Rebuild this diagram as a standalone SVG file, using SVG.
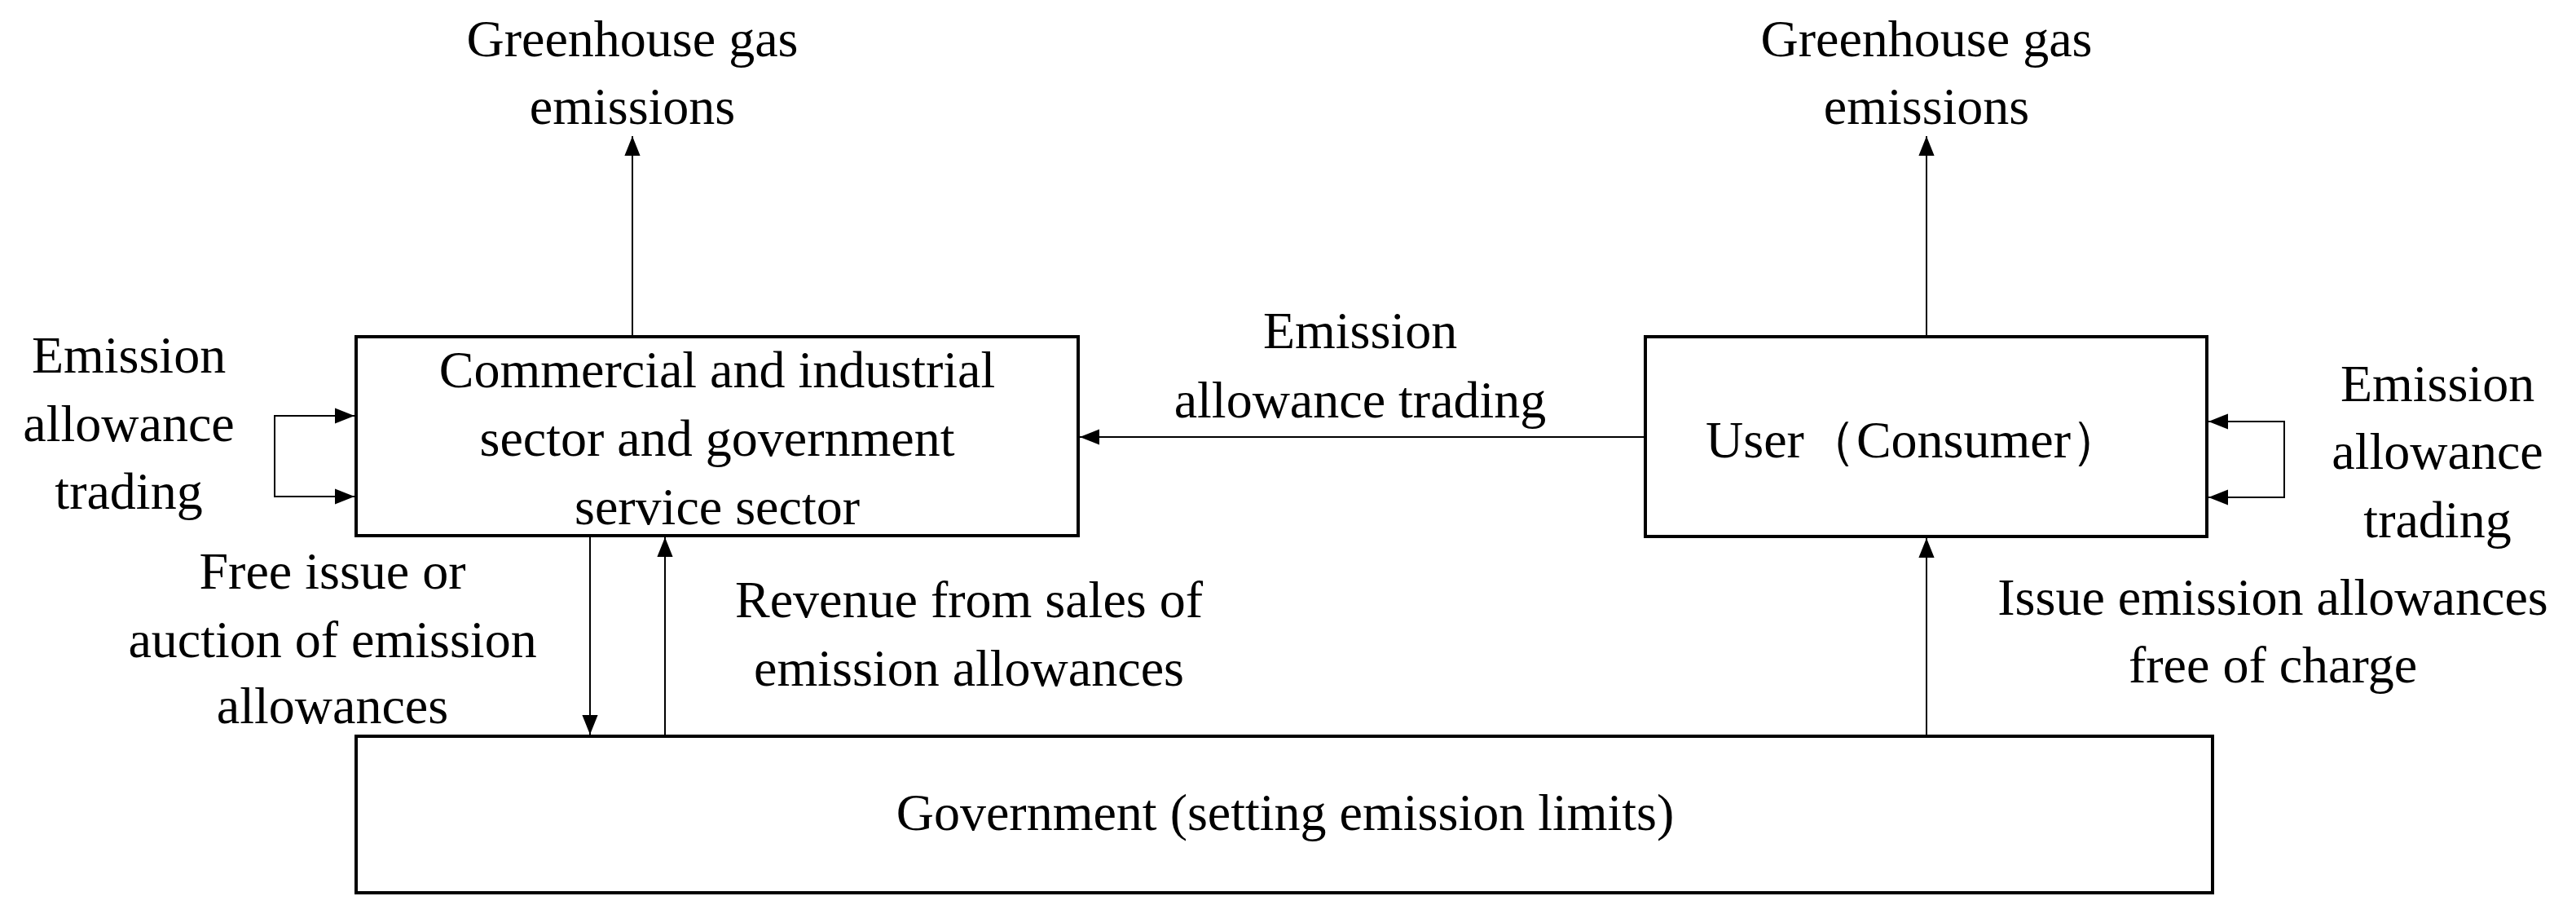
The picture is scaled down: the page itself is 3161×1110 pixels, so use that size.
<svg xmlns="http://www.w3.org/2000/svg" width="3161" height="1110" viewBox="0 0 3161 1110">
<style>
text{font-family:"Liberation Serif","Times New Roman",serif;font-size:64px;fill:#000;text-anchor:middle}
.box{fill:#fff;stroke:#000;stroke-width:4}
.c{fill:none;stroke:#000;stroke-width:2}
</style>
<defs><marker id="a" viewBox="0 0 10 10" refX="10" refY="5" markerWidth="12" markerHeight="12" markerUnits="userSpaceOnUse" orient="auto"><path d="M0,0L10,5L0,10z"/></marker>
<marker id="b" viewBox="0 0 10 10" refX="10" refY="5" markerWidth="24" markerHeight="24" markerUnits="userSpaceOnUse" orient="auto"><path d="M0,1L10,5L0,9z"/></marker></defs>
<rect width="3161" height="1110" fill="#fff"/>
<g id="connectors">
<path class="c" d="M776,413V167" marker-end="url(#b)"/>
<path class="c" d="M2364,413V167" marker-end="url(#b)"/>
<path class="c" d="M2019,536H1325" marker-end="url(#b)"/>
<path class="c" d="M437,510H337V609H435" marker-end="url(#b)"/>
<path class="c" d="M337,510H435" marker-end="url(#b)"/>
<path class="c" d="M2708,517H2803V610H2710" marker-end="url(#b)"/>
<path class="c" d="M2803,517H2710" marker-end="url(#b)"/>
<path class="c" d="M724,657V901" marker-end="url(#b)"/>
<path class="c" d="M816,903V659" marker-end="url(#b)"/>
<path class="c" d="M2364,903V660" marker-end="url(#b)"/>
</g>
<g id="commercial"><rect class="box" x="437" y="413" width="886" height="244"/>
<text x="880" y="475">Commercial and industrial</text><text x="880" y="559">sector and government</text><text x="880" y="643">service sector</text></g>
<g id="user"><rect class="box" x="2019" y="413" width="689" height="245"/>
<text x="2349" y="561">User（Consumer）</text></g>
<g id="government"><rect class="box" x="437" y="903" width="2278" height="192"/>
<text x="1577" y="1018">Government (setting emission limits)</text></g>
<g id="labels">
<text x="776" y="69">Greenhouse gas</text><text x="776" y="152">emissions</text>
<text x="2364" y="69">Greenhouse gas</text><text x="2364" y="152">emissions</text>
<text x="1669" y="427">Emission</text><text x="1669" y="512">allowance trading</text>
<text x="158" y="457">Emission</text><text x="158" y="541">allowance</text><text x="158" y="624">trading</text>
<text x="2991" y="492">Emission</text><text x="2991" y="575">allowance</text><text x="2991" y="659">trading</text>
<text x="408" y="722">Free issue or</text><text x="408" y="806">auction of emission</text><text x="408" y="887">allowances</text>
<text x="1189" y="757">Revenue from sales of</text><text x="1189" y="841">emission allowances</text>
<text x="2789" y="754">Issue emission allowances</text><text x="2789" y="837">free of charge</text>
</g>
</svg>
